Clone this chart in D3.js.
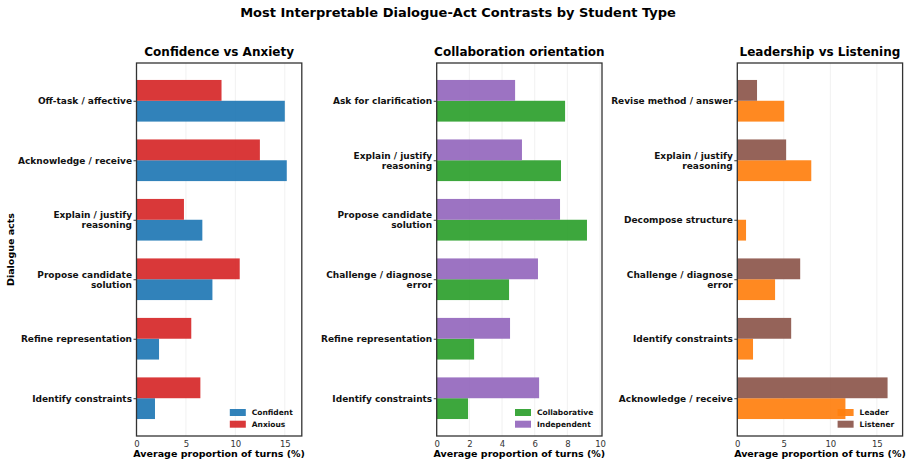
<!DOCTYPE html>
<html>
<head>
<meta charset="utf-8">
<script src="https://cdn.jsdelivr.net/npm/d3@7"></script>
<style>
  body { margin: 0; background: #fff; }
  svg { font-family: "DejaVu Sans", sans-serif; }
</style>
</head>
<body>
<script>
// data ----------------------------------------------------
var panelTitles = ['Confidence vs Anxiety', 'Collaboration orientation', 'Leadership vs Listening'];

var catsConfidence = ['Off-task / affective', 'Acknowledge / receive', 'Explain / justify\nreasoning',
  'Propose candidate\nsolution', 'Refine representation', 'Identify constraints'];
var confident = [15.0, 15.2, 6.66, 7.68, 2.28, 1.87];
var anxious = [8.6, 12.48, 4.8, 10.44, 5.54, 6.46];

var catsCollab = ['Ask for clarification', 'Explain / justify\nreasoning', 'Propose candidate\nsolution',
  'Challenge / diagnose\nerror', 'Refine representation', 'Identify constraints'];
var collaborative = [7.86, 7.61, 9.2, 4.43, 2.29, 1.92];
var independent = [4.8, 5.22, 7.55, 6.2, 4.49, 6.27];

var catsLeader = ['Revise method / answer', 'Explain / justify\nreasoning', 'Decompose structure',
  'Challenge / diagnose\nerror', 'Identify constraints', 'Acknowledge / receive'];
var leader = [5.04, 7.95, 0.94, 4.06, 1.69, 11.62];
var listener = [2.12, 5.25, 0, 6.76, 5.79, 16.15];

var ticksConfidence = [0, 5, 10, 15];
var ticksCollab = [0, 2, 4, 6, 8, 10];
var ticksLeader = [0, 5, 10, 15];

var panels = [
  { title: panelTitles[0], cats: catsConfidence, a: confident, b: anxious,
    names: ['Confident', 'Anxious'], colors: ['#1f77b4', '#d62728'], ticks: ticksConfidence, left: 136.5 },
  { title: panelTitles[1], cats: catsCollab, a: collaborative, b: independent,
    names: ['Collaborative', 'Independent'], colors: ['#2ca02c', '#9467bd'], ticks: ticksCollab, left: 436.7 },
  { title: panelTitles[2], cats: catsLeader, a: leader, b: listener,
    names: ['Leader', 'Listener'], colors: ['#ff7f0e', '#8c564b'], ticks: ticksLeader, left: 737.3 }
];

// layout -------------------------------------------------
var W = 912, H = 466;
var plotW = 165.3, plotTop = 63, plotBottom = 436;
var barH = 0.35;

var svg = d3.select('body').append('svg')
  .attr('width', W)
  .attr('height', H);

svg.append('text')
  .attr('x', 458).attr('y', 17)
  .attr('text-anchor', 'middle')
  .style('font-size', '13px').style('font-weight', 'bold')
  .text('Most Interpretable Dialogue-Act Contrasts by Student Type');

panels.forEach(function(p, pi) {
  var g = svg.append('g');
  var xMax = d3.max(p.a.concat(p.b)) * 1.1;
  var x = d3.scaleLinear().domain([0, xMax]).range([p.left, p.left + plotW]);
  var y = d3.scaleLinear().domain([-0.635, p.cats.length - 1 + 0.635]).range([plotTop, plotBottom]);

  // grid
  g.selectAll('.grid').data(p.ticks).enter().append('line')
    .attr('x1', function(d) { return x(d); }).attr('x2', function(d) { return x(d); })
    .attr('y1', plotTop).attr('y2', plotBottom)
    .attr('stroke', '#000').attr('stroke-opacity', 0.08).attr('stroke-width', 0.8);

  // bars: series a below centre, series b above
  g.selectAll('.barA').data(p.a).enter().append('rect')
    .attr('x', x(0))
    .attr('y', function(d, i) { return y(i); })
    .attr('width', function(d) { return x(d) - x(0); })
    .attr('height', y(barH) - y(0))
    .attr('fill', p.colors[0]).attr('fill-opacity', 0.92);
  g.selectAll('.barB').data(p.b).enter().append('rect')
    .attr('x', x(0))
    .attr('y', function(d, i) { return y(i - barH); })
    .attr('width', function(d) { return x(d) - x(0); })
    .attr('height', y(barH) - y(0))
    .attr('fill', p.colors[1]).attr('fill-opacity', 0.92);

  // x axis
  var xAxis = g.append('g')
    .attr('transform', 'translate(0,' + plotBottom + ')')
    .call(d3.axisBottom(x).tickValues(p.ticks).tickSize(0).tickPadding(5));
  xAxis.select('.domain').remove();
  xAxis.selectAll('text')
    .style('font-size', '8.5px').attr('fill', '#333').attr('font-family', 'DejaVu Sans');

  // y axis with wrapped labels
  var yAxis = g.append('g')
    .attr('transform', 'translate(' + p.left + ',0)')
    .call(d3.axisLeft(y).tickValues(d3.range(p.cats.length)).tickSize(3).tickPadding(2)
      .tickFormat(function(i) { return p.cats[i]; }));
  yAxis.select('.domain').remove();
  yAxis.selectAll('.tick line').attr('stroke', '#333');
  yAxis.selectAll('.tick text').each(function(i) {
    var t = d3.select(this);
    var lines = p.cats[i].split('\n');
    t.text(null).attr('dy', null)
      .style('font-size', '9px').style('font-weight', 'bold')
      .attr('fill', '#111').attr('font-family', 'DejaVu Sans');
    var off = -(lines.length - 1) * 5;
    lines.forEach(function(l, k) {
      t.append('tspan').attr('x', -4.5)
        .attr('y', off + k * 10).attr('dy', '0.32em').text(l);
    });
  });

  // frame
  g.append('rect')
    .attr('x', p.left).attr('y', plotTop)
    .attr('width', plotW).attr('height', plotBottom - plotTop)
    .attr('fill', 'none').attr('stroke', '#333').attr('stroke-width', 1.3);

  // titles
  g.append('text')
    .attr('x', p.left + plotW / 2).attr('y', 56)
    .attr('text-anchor', 'middle')
    .style('font-size', '12px').style('font-weight', 'bold')
    .text(p.title);
  g.append('text')
    .attr('x', p.left + plotW / 2).attr('y', 457)
    .attr('text-anchor', 'middle')
    .style('font-size', '9.5px').style('font-weight', 'bold')
    .text('Average proportion of turns (%)');

  // legend, lower right, no frame
  var legW = pi === 0 ? 72 : (pi === 1 ? 87 : 65);
  var lx = p.left + plotW - legW;
  var leg = g.selectAll('.leg').data(p.names).enter().append('g')
    .attr('transform', function(d, k) { return 'translate(' + lx + ',' + (409 + k * 11.7) + ')'; });
  leg.append('rect')
    .attr('width', 16).attr('height', 7)
    .attr('fill', function(d, k) { return p.colors[k]; }).attr('fill-opacity', 0.92);
  leg.append('text')
    .attr('x', 22).attr('y', 3.5).attr('dy', '0.35em')
    .style('font-size', '7.5px').style('font-weight', 'bold')
    .attr('fill', '#111')
    .text(function(d) { return d; });
});

svg.append('text')
  .attr('transform', 'translate(14,249.5) rotate(-90)')
  .attr('text-anchor', 'middle')
  .style('font-size', '9.5px').style('font-weight', 'bold')
  .text('Dialogue acts');
</script>
</body>
</html>
